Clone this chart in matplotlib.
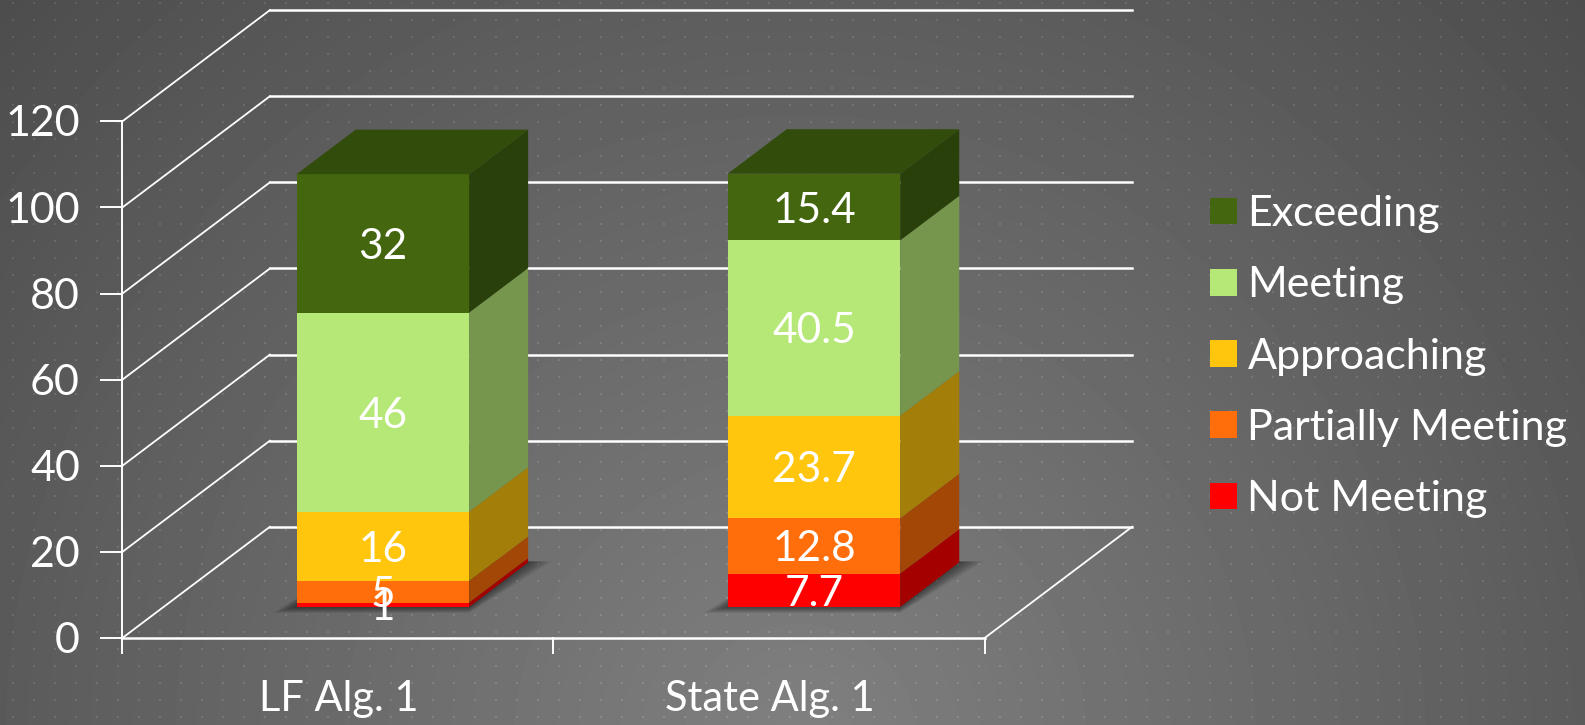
import numpy as np
import matplotlib
matplotlib.use("Agg")
import matplotlib.pyplot as plt
from matplotlib.patches import Polygon

categories = ["LF Alg. 1", "State Alg. 1"]
series_names = ["Not Meeting", "Partially Meeting", "Approaching", "Meeting", "Exceeding"]
not_meeting = [1, 7.7]
partially_meeting = [5, 12.8]
approaching = [16, 23.7]
meeting = [46, 40.5]
exceeding = [32, 15.4]
y_ticks = [0, 20, 40, 60, 80, 100, 120]

front_colors = ["#ff0000", "#ff6e0a", "#ffc60d", "#b6e878", "#43660f"]
side_colors = ["#a50000", "#a34706", "#a37e08", "#75964c", "#2a400a"]
top_color = "#324d0b"

plt.rcParams["font.family"] = ["Lato", "DejaVu Sans"]
W, H = 1585, 725
fig = plt.figure(figsize=(W / 100, H / 100), dpi=100)
ax = fig.add_axes([0, 0, 1, 1])
ax.set_xlim(0, 1568)
ax.set_ylim(717, 0)
ax.axis("off")

# background: radial gradient with faint dot lattice
yy, xx = np.mgrid[0:H, 0:W]
dist = np.hypot(xx - 800, yy - 740)
bg = 128 - 0.047 * dist
dots = ((xx - 1104) % 21 < 2) & ((yy - 19) % 17 < 2)
bg = bg + dots * 18
ax.imshow(np.clip(bg, 0, 255) / 255, cmap="gray", vmin=0, vmax=1,
          extent=(0, 1568, 717, 0), aspect="auto", zorder=0, interpolation="bilinear")

# pseudo-3D projection
X0, Y0 = 121, 631
CAT_W = 426.5
VAL_H = 4.258
DEPTH_X, DEPTH_Y = 146, -110
BAR_VAL_H = 4.28


def proj(c, v, d, val_h=VAL_H):
    return (X0 + c * CAT_W + d * DEPTH_X, Y0 - v * val_h + d * DEPTH_Y)


WHITE = "#ffffff"
for v in y_ticks:
    x0, y0 = proj(0, v, 0)
    x1, y1 = proj(0, v, 1)
    x2, y2 = proj(2, v, 1)
    ax.plot([x0 - 21, x0], [y0, y0], color=WHITE, lw=1.4, zorder=1)
    ax.plot([x0, x1], [y0, y1], color=WHITE, lw=1.3, zorder=1)
    ax.plot([x1, x2], [y1, y2], color=WHITE, lw=1.8, zorder=1)
    ax.text(x0 - 42, y0 + 3, str(v), color=WHITE, fontsize=31, ha="right", va="center", zorder=6)

# axis lines
ax.plot(*zip(proj(0, 0, 0), proj(0, y_ticks[-1], 0)), color=WHITE, lw=1.4, zorder=1)
ax.plot(*zip(proj(0, 0, 0), proj(2, 0, 0)), color=WHITE, lw=1.8, zorder=1)
ax.plot(*zip(proj(2, 0, 0), proj(2, 0, 1)), color=WHITE, lw=1.3, zorder=1)
for c in range(3):
    x, y = proj(c, 0, 0)
    ax.plot([x, x], [y, y + 15], color=WHITE, lw=1.4, zorder=1)
for i, name in enumerate(categories):
    x, y = proj(i + 0.5, 0, 0)
    ax.text(x + 1, y + 60, name, color=WHITE, fontsize=30, ha="center", va="center", zorder=6)

# bars
D0, D1 = 0.28, 0.68
BAR_W = 0.4
SHIFT = 0.0085
stack = np.array([not_meeting, partially_meeting, approaching, meeting, exceeding], dtype=float)
for i in range(len(categories)):
    c = i + 0.5 + SHIFT
    cl, cr = c - BAR_W / 2, c + BAR_W / 2
    # soft shadow
    a, b, e, f = proj(cl, 0, D0), proj(cr, 0, D0), proj(cr, 0, D1), proj(cl, 0, D1)
    for grow in np.linspace(24, 2, 12):
        ax.add_patch(Polygon([(a[0] - grow, a[1] + grow * 0.25), (b[0], b[1] + grow * 0.25),
                              (e[0] + grow, e[1] - 1), (f[0], f[1])],
                             closed=True, facecolor="black", edgecolor="none", alpha=0.045, zorder=2))
    base = 0.0
    for k in range(stack.shape[0]):
        top = base + stack[k, i]
        p = lambda cc, vv, dd: proj(cc, vv, dd, BAR_VAL_H)
        ax.add_patch(Polygon([p(cr, base, D0), p(cr, top, D0), p(cr, top, D1), p(cr, base, D1)],
                             closed=True, facecolor=side_colors[k], edgecolor="none", zorder=3))
        ax.add_patch(Polygon([p(cl, base, D0), p(cr, base, D0), p(cr, top, D0), p(cl, top, D0)],
                             closed=True, facecolor=front_colors[k], edgecolor="none", zorder=4))
        tx, ty = p(c, (base + top) / 2, D0)
        val = stack[k, i]
        ax.text(tx, ty, f"{val:g}", color=WHITE, fontsize=30.5, ha="center", va="center_baseline", zorder=7)
        base = top
    p = lambda cc, vv, dd: proj(cc, vv, dd, BAR_VAL_H)
    ax.add_patch(Polygon([p(cl, base, D0), p(cr, base, D0), p(cr, base, D1), p(cl, base, D1)],
                         closed=True, facecolor=top_color, edgecolor="none", zorder=4))

# legend
for j, name in enumerate(reversed(series_names)):
    y = 209 + j * 70.3
    idx = len(series_names) - 1 - j
    ax.add_patch(Polygon([(1197, y - 13), (1224, y - 13), (1224, y + 13), (1197, y + 13)],
                         closed=True, facecolor=front_colors[idx], edgecolor="none", zorder=5))
    ax.text(1234, y + 3, name, color=WHITE, fontsize=31, ha="left", va="center", zorder=6)

fig.savefig("out.png", dpi=100)
